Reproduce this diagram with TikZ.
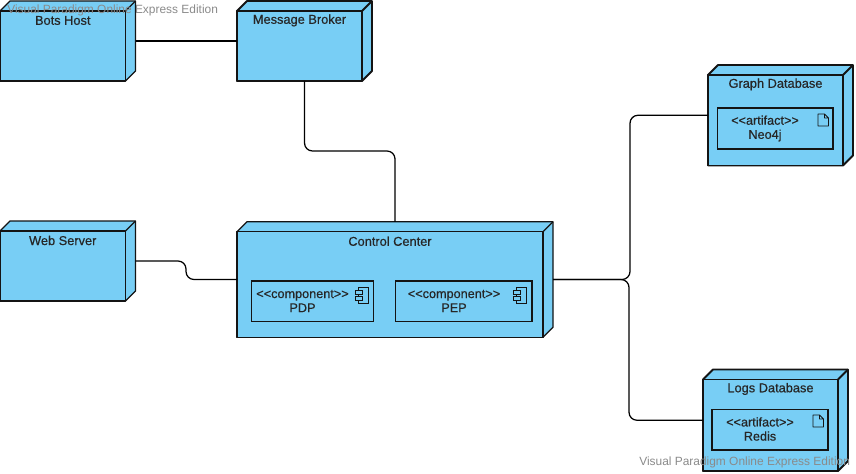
\documentclass[tikz,border=0pt]{standalone}
\usepackage{fontspec}
\setmainfont{Liberation Sans}
\newfontfamily\boxfont[FakeBold=0.5]{Liberation Sans}
\usetikzlibrary{calc}
\definecolor{nodeblue}{HTML}{78CEF5}
\definecolor{nodeline}{HTML}{141414}
\definecolor{markgray}{HTML}{8A8A8A}
\tikzset{bound/.style={inner sep=0pt,outer sep=0pt},
  face/.style={draw=nodeline,fill=nodeblue,line join=round},
  title/.style={inner sep=0pt,font=\boxfont\fontsize{9.6pt}{11pt}\selectfont,text=black!85},
  part/.style={draw=nodeline,line width=.8pt,inner sep=0pt,outer sep=0pt},
  parttext/.style={inner sep=0pt,align=center,font=\boxfont\fontsize{9.5pt}{10.6pt}\selectfont,text=black!85},
  wire/.style={draw=black,line width=.95pt,rounded corners=6pt},
  fatwire/.style={wire,line width=1.5pt},
  fatface/.style={line width=1.4pt},
  thinface/.style={line width=.95pt},
  watermark/.style={inner sep=0pt,font=\fontsize{8.95pt}{11pt}\selectfont,text=markgray}}
% deployment box: name, face style, centre, outer width, outer height, title
\newcommand{\devbox}[7]{
  \node[bound,minimum width=#5*.75pt,minimum height=#6*.75pt] (#1) at (#3,#4) {};
  \path[face,#2] ($(#1.north west)+(0,-7.5pt)$) -- ++(7.5pt,7.5pt) -- (#1.north east) -- ($(#1.south east)+(0,7.5pt)$) -- ($(#1.south east)+(-7.5pt,0)$) -- (#1.south west) -- cycle;
  \path[face,#2] (#1.south west) rectangle ($(#1.north east)+(-7.5pt,-7.5pt)$);
  \path[draw=nodeline,#2] ($(#1.north east)+(-7.5pt,-7.5pt)$) -- (#1.north east);
  \node[title] (#1title) at ($(#1.north west)!.5!(#1.north east)+(-3.75pt,-14.6pt)$) {#7};
}
\newcommand{\stereo}[1]{{<}{<}#1{>}{>}}
\begin{document}
\begin{tikzpicture}[x=.75pt,y=-.75pt]
  \useasboundingbox (0,0) rectangle (856,474);
  \devbox{bots}{thinface}{67.75}{41}{135.5}{80}{Bots Host}
  \devbox{broker}{fatface}{304.5}{41}{135}{80}{Message Broker}
  \devbox{web}{thinface}{67.75}{261}{135.5}{80}{Web Server}
  \devbox{center}{thinface}{395}{279.5}{316}{115.5}{Control Center}
  \devbox{graph}{fatface}{780.5}{115.25}{145}{100.5}{Graph Database}
  \devbox{logs}{fatface}{775.5}{420.25}{145}{101.5}{Logs Database}

  \node[part,minimum width=122*.75pt,minimum height=40.5*.75pt] (pdp) at (312.5,301.25) {};
  \node[parttext] (pdptext) at (302.5,301) {\stereo{component}\\PDP};
  \node[part,minimum width=136.5*.75pt,minimum height=40.5*.75pt] (pep) at (463.75,301.25) {};
  \node[parttext] (peptext) at (454,301) {\stereo{component}\\PEP};
  \node[part,minimum width=115.5*.75pt,minimum height=41*.75pt] (neo) at (775.25,128.5) {};
  \node[parttext] (neotext) at (765,128.5) {\stereo{artifact}\\Neo4j};
  \node[part,minimum width=116*.75pt,minimum height=40.5*.75pt] (redis) at (770,429.75) {};
  \node[parttext] (redistext) at (760,429) {\stereo{artifact}\\Redis};

  % component icons
  \foreach \ox/\oy in {355/287,513/287}{
    \draw[nodeline,line width=.7pt] (\ox+3,\oy) rectangle (\ox+13,\oy+16);
    \draw[nodeline,fill=nodeblue,line width=.7pt] (\ox,\oy+3.5) rectangle (\ox+7,\oy+7);
    \draw[nodeline,fill=nodeblue,line width=.7pt] (\ox,\oy+9.5) rectangle (\ox+7,\oy+13);
  }
  % artifact icons
  \foreach \ox/\oy in {818/114,813/415}{
    \draw[nodeline,line width=.7pt,line join=round] (\ox,\oy) -- (\ox+6.5,\oy) -- (\ox+10.5,\oy+4) -- (\ox+10.5,\oy+12) -- (\ox,\oy+12) -- cycle
      (\ox+6.5,\oy) -- (\ox+6.5,\oy+4) -- (\ox+10.5,\oy+4);
  }

  \draw[fatwire] (bots) -- (broker);
  \draw[wire] (broker.south) -- (304.5,151) -- (395,151) -- (center.north);
  \draw[wire] (web.east) -- (186,261) -- (186,279.5) -- (center.west);
  \draw[wire] (center.east) -- (630,279.5) -- (630,115.25) -- (graph.west);
  \draw[wire] (center.east) -- (629,279.5) -- (629,420.25) -- (logs.west);

  \node[watermark,anchor=west] (markup) at (7,10.5) {Visual Paradigm Online Express Edition};
  \node[watermark,anchor=west] (markdown) at (639,462.5) {Visual Paradigm Online Express Edition};
\end{tikzpicture}
\end{document}
